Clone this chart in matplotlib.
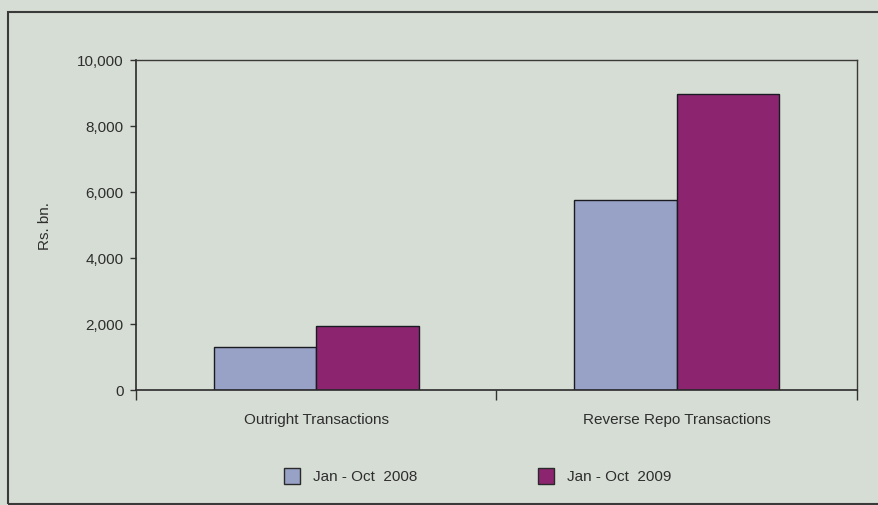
import matplotlib
matplotlib.use("Agg")
import matplotlib.pyplot as plt
from matplotlib.patches import Rectangle
from matplotlib.ticker import FuncFormatter
import numpy as np

categories = ["Outright Transactions", "Reverse Repo Transactions"]
series_names = ["Jan - Oct  2008", "Jan - Oct  2009"]
values_2008 = [1300, 5750]
values_2009 = [1940, 8980]
y_ticks = [0, 2000, 4000, 6000, 8000, 10000]

plt.rcParams["font.family"] = ["Liberation Sans", "DejaVu Sans"]

bg = "#d6ddd4"
text_col = "#2e2e2e"
colors = ["#98a2c6", "#8c2470"]
fs = 11

W, H = 879, 506
fig = plt.figure(figsize=(W / 100, H / 100), dpi=100, facecolor=bg)
ax = fig.add_axes([136 / W, 1 - 391 / H, (857 - 136) / W, (391 - 61) / H])
ax.set_facecolor(bg)

x = np.arange(len(categories)) + 0.5
bw = 0.285
ax.bar(x - bw / 2, values_2008, width=bw, color=colors[0], edgecolor="#1a1a22", linewidth=1.0)
ax.bar(x + bw / 2, values_2009, width=bw, color=colors[1], edgecolor="#1a1a22", linewidth=1.0)

ax.set_xlim(0, len(categories))
ax.set_ylim(0, 10000)
ax.set_yticks(y_ticks)
ax.yaxis.set_major_formatter(FuncFormatter(lambda v, p: f"{int(v):,}"))
ax.tick_params(axis="y", direction="out", length=4, width=1, pad=5,
               labelsize=fs, labelcolor=text_col, color="#333333")

ax.set_xticks(np.arange(len(categories) + 1))
ax.set_xticklabels([])
ax.set_xticks(x, minor=True)
ax.set_xticklabels(categories, minor=True)
ax.tick_params(axis="x", which="major", direction="out", length=7, width=1, color="#333333")
ax.tick_params(axis="x", which="minor", length=0, pad=16, labelsize=fs, labelcolor=text_col)

for side in ["left", "bottom"]:
    ax.spines[side].set_color("#2a2a2a")
    ax.spines[side].set_linewidth(1.2)
for side in ["top", "right"]:
    ax.spines[side].set_color("#3a3a3a")
    ax.spines[side].set_linewidth(1.0)

ax.set_ylabel("Rs. bn.", fontsize=fs, color=text_col, labelpad=18)

# outer frame
fig.add_artist(Rectangle((8 / W, 1 / H), 1.0, 1 - 14 / H, transform=fig.transFigure,
                         fill=False, edgecolor="#3a3a3a", linewidth=1.5))

# legend
leg_items = [(284, series_names[0], colors[0]), (538, series_names[1], colors[1])]
for px, name, col in leg_items:
    fig.add_artist(Rectangle((px / W, 1 - 485 / H), 16 / W, 16 / H, transform=fig.transFigure,
                             facecolor=col, edgecolor="#2a2a2a", linewidth=1.0))
    fig.text((px + 29) / W, 1 - 477 / H, name, fontsize=fs, color=text_col,
             ha="left", va="center")

fig.savefig("out.png", dpi=100, facecolor=bg)
